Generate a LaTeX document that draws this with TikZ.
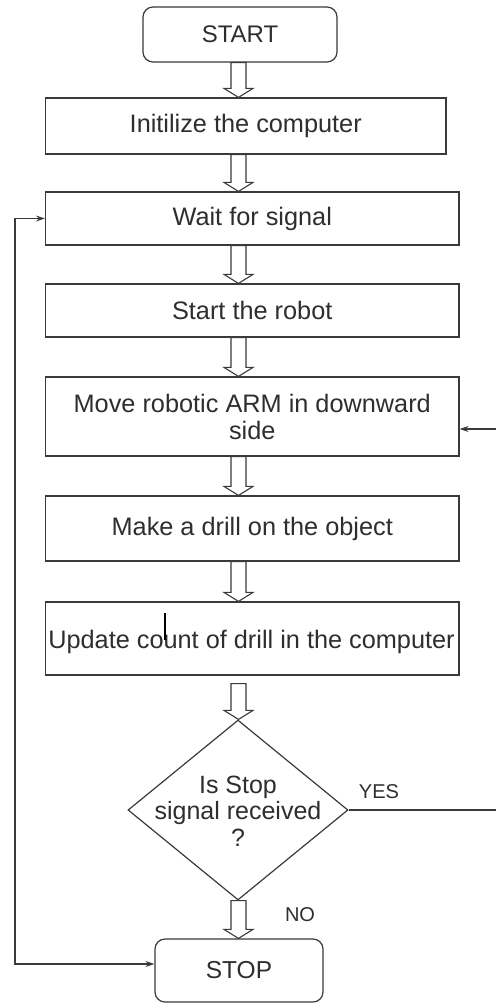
\documentclass[tikz,border=0pt]{standalone}
\usepackage{fontspec}
\setmainfont{Liberation Sans}
\usetikzlibrary{shapes.geometric,arrows.meta,calc}
\definecolor{ink}{HTML}{3A3A3A}
\definecolor{txt}{HTML}{2E2E2E}
\newcommand\hollowarrow[3][0]{%
  \draw[harrow] let \p1=(#2.south), \p2=(#3.north) in
    (231pt,\y1-#1pt) -- (231pt,\y2+9pt) -- (224pt,\y2+9pt) -- (238.5pt,\y2)
    -- (253pt,\y2+9pt) -- (246pt,\y2+9pt) -- (246pt,\y1-#1pt) -- cycle;}
\begin{document}
\begin{tikzpicture}[x=1pt,y=-1pt,
  proc/.style={draw=ink, line width=1.2pt, inner sep=0pt, text=txt,
    font=\fontsize{25.3}{27}\selectfont, align=center},
  term/.style={proc, rounded corners=10pt},
  decision/.style={draw=ink, line width=1.2pt, diamond, inner sep=0pt,
    minimum width=220pt, minimum height=180pt},
  harrow/.style={draw=ink, line width=1.1pt, fill=white, line join=miter},
  conn/.style={draw=ink, line width=1.2pt},
  tip/.style={-{Stealth[length=9pt,width=6pt]}},
  lbl/.style={text=txt, font=\fontsize{20}{22}\selectfont, inner sep=0pt}]
\fill[white] (0,0) rectangle (496,1003);
\useasboundingbox (0,0) rectangle (496,1003);

\node[term, minimum width=194pt, minimum height=55pt, font=\fontsize{24}{26}\selectfont] (start) at (240,34.5) {START};
\node[proc, minimum width=400.5pt, minimum height=56pt] (init) at (245.75,126) {Initilize the computer};
\node[proc, minimum width=413.5pt, minimum height=53pt] (wait) at (252.25,218.5) {Wait for signal};
\node[proc, minimum width=413.5pt, minimum height=53pt] (robot) at (252.25,310.5) {Start the robot};
\node[proc, minimum width=413.5pt, minimum height=79pt] (move) at (252.25,416.5) {Move robotic ARM in downward\\side};
\node[proc, minimum width=413.5pt, minimum height=65pt] (drill) at (252.25,528.5) {Make a drill on the object};
\node[proc, minimum width=413.5pt, minimum height=73pt] (update) at (252.25,638.5) {};
\node[text=txt, font=\fontsize{25.3}{27}\selectfont, inner sep=0pt] (updtxt) at (251.5,642) {Update count of drill in the computer};
\node[decision] (dec) at (238,810) {};
\node[text=txt, font=\fontsize{25}{26.5}\selectfont, align=center, inner sep=0pt] (dectxt) at (238,811) {Is Stop\\signal received\\?};
\node[term, minimum width=168pt, minimum height=63pt, font=\fontsize{24.5}{26}\selectfont] (stop) at (239,970.5) {STOP};

\node[lbl] (yes) at (379,792) {YES};
\node[lbl] (no) at (300,915) {NO};

% stray cursor mark
\draw[line width=1.3pt, black] (165,613) -- (165,640);

\hollowarrow{start}{init}
\hollowarrow{init}{wait}
\hollowarrow{wait}{robot}
\hollowarrow{robot}{move}
\hollowarrow{move}{drill}
\hollowarrow{drill}{update}
\hollowarrow[8]{update}{dec}
\hollowarrow{dec}{stop}

% left loop
\coordinate (lt) at (15,218.5);
\coordinate (lb) at (15,964);
\draw[conn, {Stealth[length=9pt,width=6pt]}-{Stealth[length=9pt,width=6pt]}]
  (wait.west) -- (lt) -- (lb) -- (lb -| stop.west);

% right YES branch
\coordinate (ry) at (496,810);
\coordinate (rx) at (496,429);
\draw[conn] (dec.east) -- (ry);
\draw[conn, tip] (rx) -- (rx -| move.east);
\end{tikzpicture}
\end{document}
